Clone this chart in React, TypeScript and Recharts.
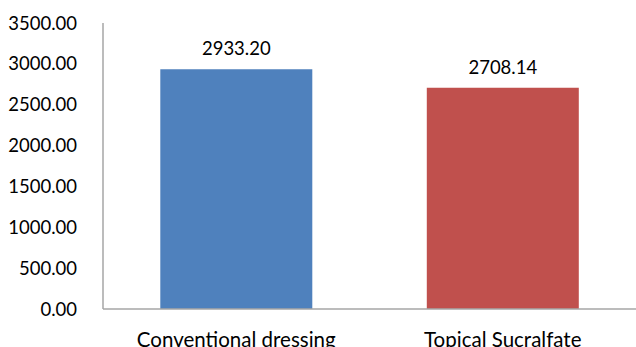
import { BarChart, Bar, XAxis, YAxis, Cell, LabelList } from 'recharts';

const groups = ['Conventional dressing', 'Topical Sucralfate'];
const means = [2933.2, 2708.14];
const barColors = ['#4F81BD', '#C0504D'];
const yTicks = [0, 500, 1000, 1500, 2000, 2500, 3000, 3500];

const data = groups.map((name, i) => ({ name, value: means[i] }));

const FONT = 'Lato, "Open Sans", sans-serif';

export default function App() {
  return (
    <div style={{ position: 'absolute', left: 0, top: 0 }}>
      <BarChart
        width={636}
        height={347}
        data={data}
        margin={{ top: 23, right: 0, bottom: 0, left: 0 }}
        barCategoryGap="21.5%"
      >
        <XAxis
          dataKey="name"
          height={38}
          axisLine={{ stroke: '#A6A6A6', strokeWidth: 1.5 }}
          tickLine={false}
          tick={{ fontSize: 20.5, fill: '#000', fontFamily: FONT }}
          tickMargin={17}
        />
        <YAxis
          width={103}
          domain={[0, 3500]}
          ticks={yTicks}
          tickFormatter={(v: number) => v.toFixed(2)}
          axisLine={{ stroke: '#A6A6A6', strokeWidth: 1.5 }}
          tickLine={false}
          tickMargin={20}
          tick={{ fontSize: 18.5, fill: '#000', fontFamily: FONT }}
        />
        <Bar dataKey="value" isAnimationActive={false}>
          {data.map((d, i) => (
            <Cell key={d.name} fill={barColors[i]} />
          ))}
          <LabelList
            dataKey="value"
            position="top"
            offset={14}
            formatter={(v: number) => v.toFixed(2)}
            style={{ fontSize: 18.5, fill: '#000', fontFamily: FONT }}
          />
        </Bar>
      </BarChart>
    </div>
  );
}
